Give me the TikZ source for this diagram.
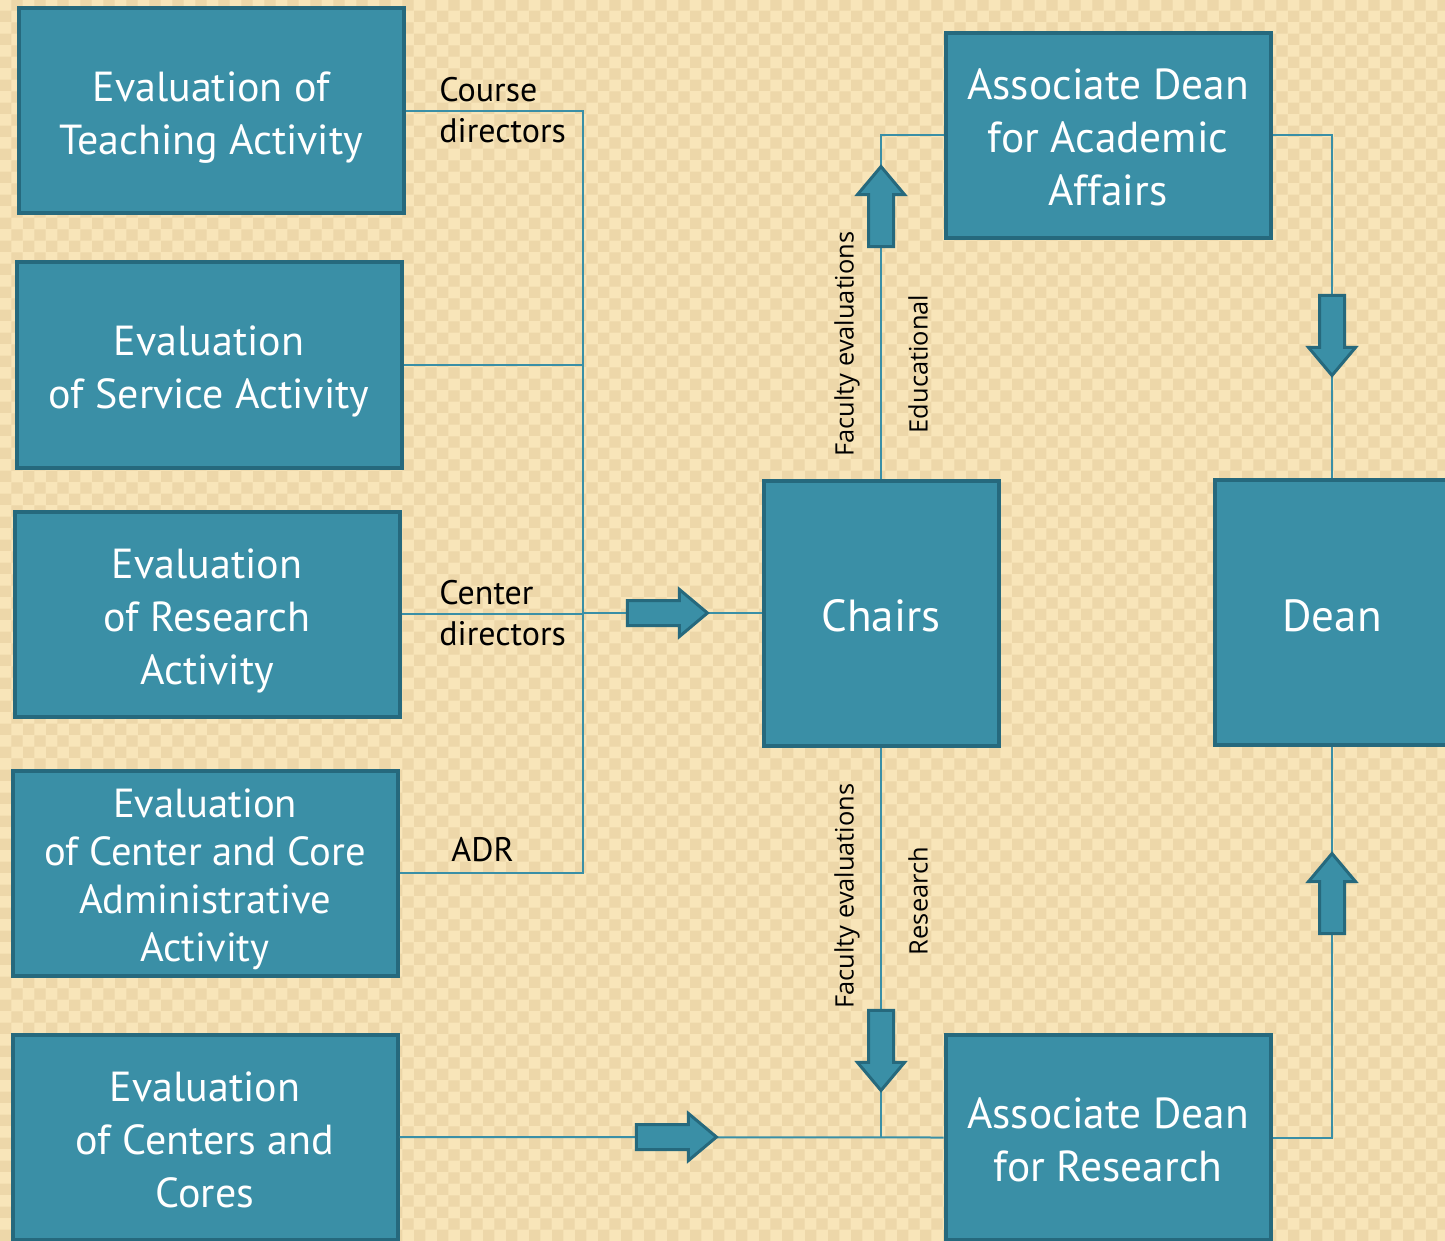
\documentclass[tikz,border=0pt]{standalone}
\usepackage{fontspec}
\setmainfont{PT Sans}
\newfontfamily\sidefont{Open Sans}
\usetikzlibrary{shapes.arrows, positioning, patterns}
\definecolor{boxteal}{HTML}{3A8FA6}
\definecolor{boxedge}{HTML}{26697D}
\definecolor{paper}{HTML}{F8E5B9}
\definecolor{paperdot}{HTML}{EDD7A9}
% box text, set a little low as in the slide
\newcommand{\boxlines}[2][3.3pt]{\raisebox{-#1}[\height][\depth]{\begin{tabular}{@{}c@{}}#2\end{tabular}}}
\tikzstyle{evalbox} = [rectangle, draw=boxedge, fill=boxteal, line width=2pt,
  text=white, minimum width=192.5pt, minimum height=102.5pt,
  inner sep=0pt, font=\fontsize{21}{26.5}\selectfont]
\tikzstyle{deanbox} = [evalbox, minimum width=162.5pt, font=\fontsize{21.7}{26.5}\selectfont]
\tikzstyle{chairbox} = [evalbox, minimum width=117.5pt, minimum height=132.5pt,
  font=\fontsize{22.5}{26.5}\selectfont]
\tikzstyle{wire} = [draw=boxteal, line width=1pt]
\tikzstyle{fatarrow} = [single arrow, draw=boxedge, fill=boxteal, line width=1.5pt,
  inner xsep=0pt, inner ysep=5.5pt, single arrow head extend=5.5pt,
  single arrow tip angle=80, minimum height=40pt]
\tikzstyle{lbl} = [align=left, inner sep=0pt, font=\fontsize{17}{20.5}\selectfont]
\tikzstyle{sidelbl} = [rotate=90, inner sep=0pt, font=\sidefont\fontsize{12.7}{15}\selectfont]

\begin{document}
\begin{tikzpicture}[x=0.5pt, y=-0.5pt]
    \useasboundingbox (0,0) rectangle (1445,1241);
    \fill[paper] (0,0) rectangle (1445,1241);
    \fill[pattern=checkerboard, pattern color=paperdot] (0,0) rectangle (1445,1241);

    % left column
    \node [evalbox] (teach) at (211,111) {\boxlines{Evaluation of\\Teaching Activity}};
    \node [evalbox, below=22.5pt of teach, xshift=-1pt] (service) {\boxlines{Evaluation\\of Service Activity}};
    \node [evalbox, below=20pt of service, xshift=-1pt] (research) {\boxlines{Evaluation\\of Research\\Activity}};
    \node [evalbox, below=25pt of research, xshift=-1pt, font=\fontsize{20.3}{24}\selectfont] (admin)
      {\boxlines{Evaluation\\of Center and Core\\Administrative\\Activity}};
    \node [evalbox, below=27.5pt of admin] (centers) {\boxlines{Evaluation\\of Centers and\\Cores}};

    % right side
    \node [chairbox] (chairs) at (881,613) {\boxlines[4pt]{Chairs}};
    \node [deanbox] (acad) at (1108,135.5) {\boxlines{Associate Dean\\for Academic\\Affairs}};
    \node [deanbox] (resr) at (1108,1137.5) {\boxlines{Associate Dean\\for Research}};
    \node [chairbox] (dean) at (1332,612.5) {\boxlines[4pt]{Dean}};

    \coordinate (hub) at (583,613);

    \path [wire] (teach.east) -| (hub);
    \path [wire] (service.east) -- (service.east -| hub);
    \path [wire] (research.east) -- (research.east -| hub);
    \path [wire] (admin.east) -| (hub);
    \path [wire] (hub) -- (chairs.west);
    \path [wire] (chairs.north) |- (acad.west);
    \path [wire] (acad.east) -| (dean.north);
    \path [wire] (centers.east) -- (resr.west);
    \path [wire] (chairs.south) -- (chairs.south |- resr.west);
    \path [wire] (resr.east) -| (dean.south);

    % block arrows on the wires
    \node [fatarrow] (toChairs) at (660,613) {};
    \node [fatarrow] (toResr) at (669,1137) {};
    \node [fatarrow, rotate=90] (toAcad) at (881,214) {};
    \node [fatarrow, rotate=-90] (toDeanA) at (1332,328) {};
    \node [fatarrow, rotate=-90] (toResrD) at (881,1043) {};
    \node [fatarrow, rotate=90] (toDeanR) at (1332,901) {};

    % labels
    \node [lbl, anchor=west] (courseLbl) at (439,110) {Course\\directors};
    \node [lbl, anchor=west] (centerLbl) at (439,613) {Center\\directors};
    \node [lbl, anchor=west] (adrLbl) at (451,850) {ADR};
    \node [sidelbl] (facA) at (847,344) {Faculty evaluations};
    \node [sidelbl] (eduLbl) at (918,364) {Educational};
    \node [sidelbl] (facR) at (847,896) {Faculty evaluations};
    \node [sidelbl] (resLbl) at (918,901) {Research};
  \end{tikzpicture}
\end{document}
